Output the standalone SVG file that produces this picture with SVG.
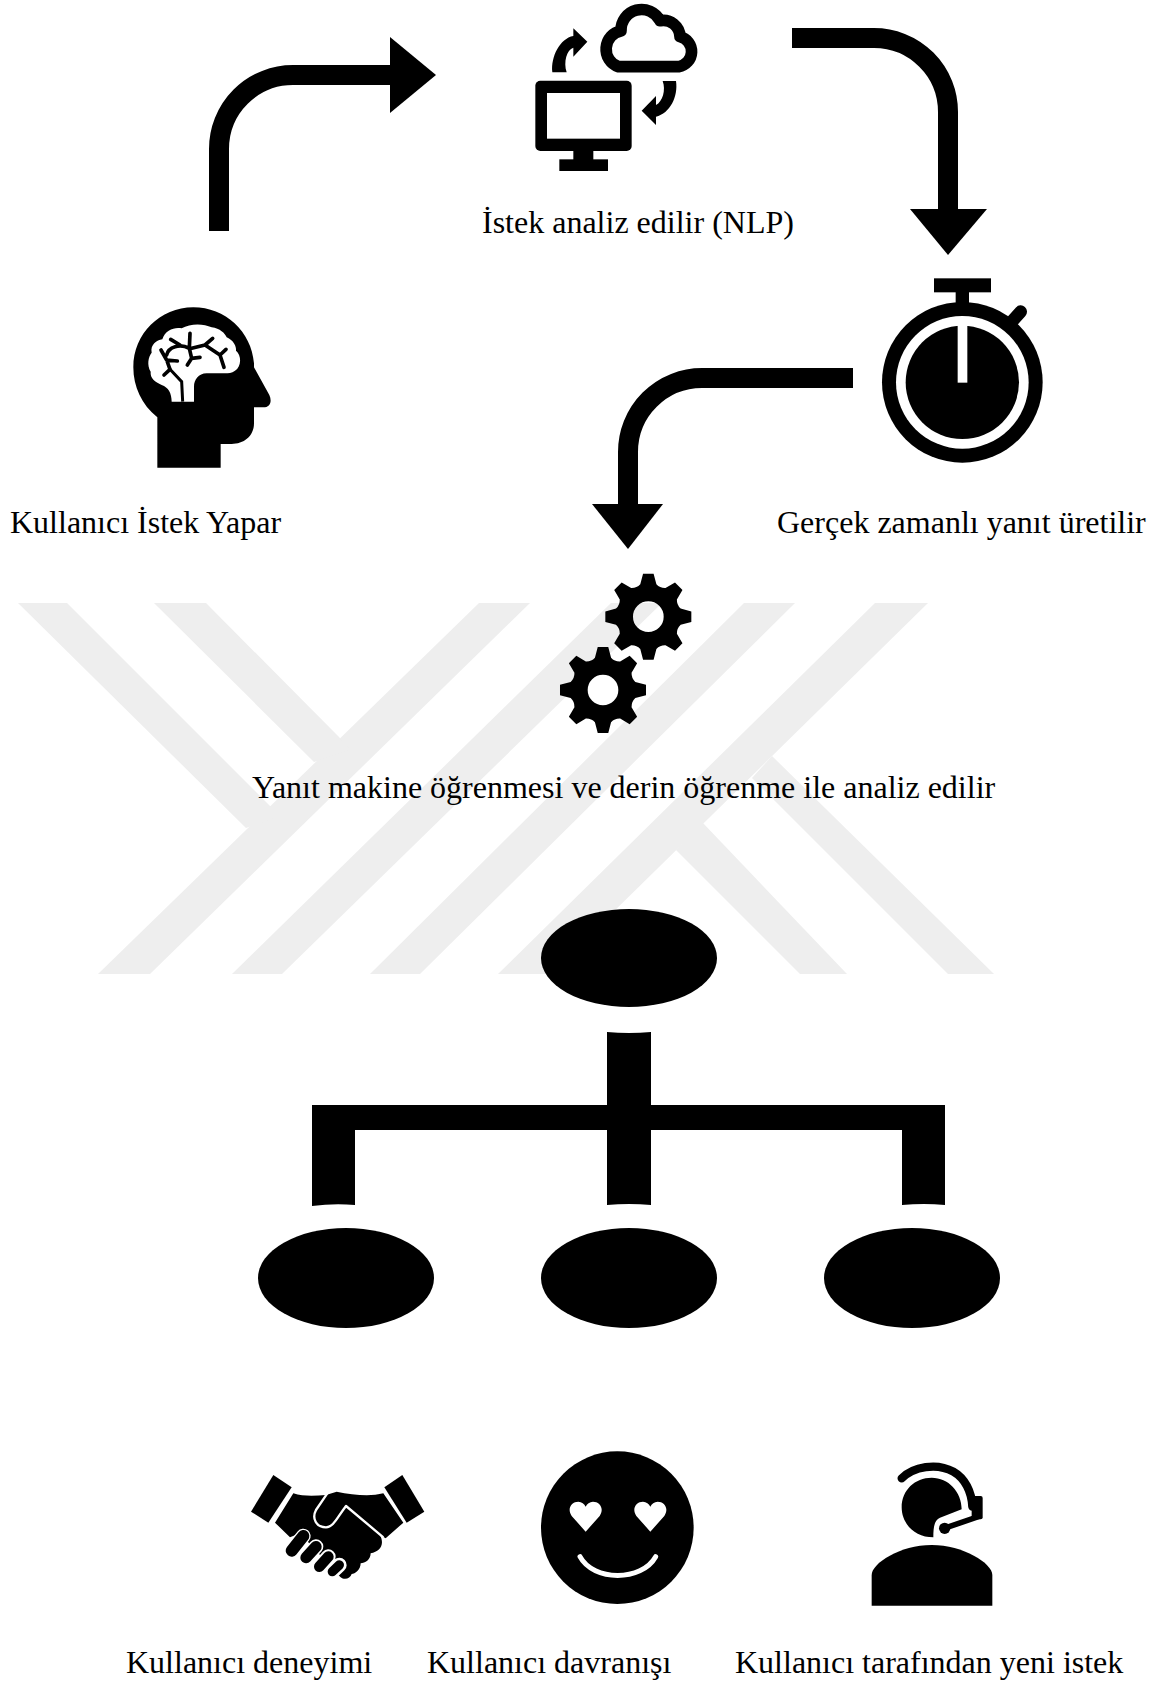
<svg xmlns="http://www.w3.org/2000/svg" width="1159" height="1683" viewBox="0 0 1159 1683">
<style>
text{font-family:"Liberation Serif","Times New Roman",serif;font-size:32px;fill:#000}
.wm{fill:#eeeeee}
.k{fill:#000}
.w{fill:#fff}
.con{fill:none;stroke:#000;stroke-width:20}
</style>
<defs>
<path id="gear" fill-rule="evenodd" d="M-15.8 -129L15.8 -129L24.2 -97Q35.2 -85 51.5 -85.7L80 -102.4L102.4 -80L85.7 -51.5Q85 -35.2 97 -24.2L129 -15.8L129 15.8L97 24.2Q85 35.2 85.7 51.5L102.4 80L80 102.4L51.5 85.7Q35.2 85 24.2 97L15.8 129L-15.8 129L-24.2 97Q-35.2 85 -51.5 85.7L-80 102.4L-102.4 80L-85.7 51.5Q-85 35.2 -97 24.2L-129 15.8L-129 -15.8L-97 -24.2Q-85 -35.2 -85.7 -51.5L-102.4 -80L-80 -102.4L-51.5 -85.7Q-35.2 -85 -24.2 -97ZM46 0A46 46 0 1 0 -46 0A46 46 0 1 0 46 0Z"/>
<clipPath id="gearclip"><circle cx="325" cy="170" r="132"/></clipPath>
</defs>
<rect width="1159" height="1683" fill="#fff"/>
<g id="watermark" class="wm">
<polygon points="479,603 530,603 150,974 98,974"/>
<polygon points="18,603 67,603 280,816 246,828"/>
<polygon points="154,603 206,603 339,737 350,750 314,762"/>
<polygon points="611,603 662,603 282,974 232,974"/>
<polygon points="744,603 795,603 420,974 370,974"/>
<polygon points="875,603 928,603 550,974 498,974"/>
<polygon points="752,778 772,756 994,974 948,974"/>
<polygon points="676,850 702,822 847,974 800,974"/>
</g>
<g id="connectors">
<path class="con" d="M219 231V149A74 74 0 0 1 293 75H395"/>
<polygon class="k" points="390,37 436,75 390,113"/>
<path class="con" d="M792 38H874A74 74 0 0 1 948 112V215"/>
<polygon class="k" points="910,209 987,209 948,255"/>
<path class="con" d="M853 378H702A74 74 0 0 0 628 452V510"/>
<polygon class="k" points="592,504 663,504 628,549"/>
<path id="tree-lines" class="k" d="M607 1032Q629 1034 651 1032V1105H945V1205Q924 1203 902 1205V1130H651V1205Q629 1203 607 1205V1130H355V1205Q334 1203 312 1206V1105H607Z"/>
</g>
<g id="node-user">
<g transform="translate(100 280) scale(.33333)">
<path class="k" d="M172 563V412C125 375 100 320 100 262C100 162 180 82 280 82C375 82 455 155 462 250L462 262L508 345C517 365 510 382 490 382H462V430C462 470 430 492 395 492H362V563Z"/>
<path class="w" d="M215 365C215 340 205 322 185 315C165 305 150 295 152 275C140 255 145 230 155 218C150 195 170 180 187 178C195 150 225 140 245 145C270 130 310 130 335 142C360 145 375 160 380 172C400 180 410 200 408 212C425 225 425 260 405 272C395 280 385 280 375 280H320C295 280 282 300 282 320V365Z"/>
<path d="M248 365L245 305L210 268" fill="none" stroke="#000" stroke-width="9"/>
<path d="M210 268L192 285M210 268L200 240L183 210M200 240L232 243M200 225C205 200 240 190 268 205M268 205L275 235L262 255M275 235L300 232M268 205L270 160M240 195L212 178M275 205L315 195L338 175M315 195L360 225L378 208M360 225L372 262" fill="none" stroke="#000" stroke-width="11" stroke-linecap="round" stroke-linejoin="round"/>
</g>
<text x="10" y="533">Kullanıcı İstek Yapar</text>
</g>
<g id="node-analysis">
<g transform="translate(510 0) scale(.33333)">
<rect class="k" x="76" y="242" width="289" height="211" rx="15"/>
<rect class="w" x="111" y="279" width="219" height="137"/>
<rect class="k" x="190" y="450" width="60" height="30"/>
<rect class="k" x="148" y="478" width="146" height="35"/>
<path d="M325 200A52 55 0 0 1 333 93A62 62 0 0 1 450 62A50 50 0 0 1 510 110A46 46 0 0 1 506 200Z" fill="none" stroke="#000" stroke-width="35" stroke-linejoin="round"/>
<path class="k" d="M127 217C122 170 150 115 190 108L190 85L232 125L190 170L190 143C170 150 160 185 170 217Z"/>
<path class="k" d="M498 243C505 290 480 340 438 350L438 375L395 332L438 288L438 315C458 305 468 270 458 243Z"/>
</g>
<text x="482" y="233">İstek analiz edilir (NLP)</text>
</g>
<g id="node-timer">
<g transform="translate(860 260) scale(.33333)">
<rect class="k" x="222" y="55" width="171" height="42"/>
<rect class="k" x="287" y="90" width="40" height="50"/>
<path d="M455 185L482 155" stroke="#000" stroke-width="38" stroke-linecap="round"/>
<circle class="k" cx="307" cy="367" r="241"/>
<circle class="w" cx="307" cy="367" r="199"/>
<circle class="k" cx="307" cy="367" r="170"/>
<rect class="w" x="293" y="190" width="29" height="178"/>
</g>
<text x="777" y="533">Gerçek zamanlı yanıt üretilir</text>
</g>
<g id="node-gears">
<g transform="translate(540 560) scale(.33333)">
<use href="#gear" x="325" y="170"/>
<g clip-path="url(#gearclip)"><use href="#gear" x="189" y="390" fill="#fff" stroke="#fff" stroke-width="18"/></g>
<use href="#gear" x="189" y="390"/>
</g>
<text x="252" y="798">Yanıt makine öğrenmesi ve derin öğrenme ile analiz edilir</text>
</g>
<g id="node-tree-top"><ellipse class="k" cx="629" cy="958" rx="88" ry="49"/></g>
<g id="node-tree-left"><ellipse class="k" cx="346" cy="1278" rx="88" ry="50"/></g>
<g id="node-tree-mid"><ellipse class="k" cx="629" cy="1278" rx="88" ry="50"/></g>
<g id="node-tree-right"><ellipse class="k" cx="912" cy="1278" rx="88" ry="50"/></g>
<g id="node-experience">
<g transform="translate(240 1450) scale(.33333)">
<polygon class="k" points="100,75 155,112 85,218 33,185"/>
<polygon class="k" points="487,75 553,185 500,218 433,112"/>
<path class="k" d="M160 130C190 140 225 138 258 135L290 125C340 135 390 140 430 130L490 218L437 265L420 255C435 285 420 305 392 310C392 330 375 340 362 340C362 360 345 372 335 372C330 388 310 392 298 378L180 250L150 262L105 218Z"/>
<path d="M262 130L228 180C215 205 228 232 258 232C280 232 290 205 318 168L430 262" fill="none" stroke="#fff" stroke-width="7" stroke-linejoin="round"/>
<path d="M155 302L190 258M198 323L228 290M238 350L265 320M277 365L298 345" fill="none" stroke="#fff" stroke-width="44" stroke-linecap="round"/>
<path d="M155 302L190 258" fill="none" stroke="#000" stroke-width="36" stroke-linecap="round"/>
<path d="M198 323L228 290" fill="none" stroke="#000" stroke-width="34" stroke-linecap="round"/>
<path d="M238 350L265 320" fill="none" stroke="#000" stroke-width="32" stroke-linecap="round"/>
<path d="M277 365L298 345" fill="none" stroke="#000" stroke-width="28" stroke-linecap="round"/>
</g>
<text x="126" y="1673">Kullanıcı deneyimi</text>
</g>
<g id="node-behavior">
<g transform="translate(530 1440) scale(.33333)">
<circle class="k" cx="262" cy="263" r="229"/>
<path class="w" d="M167 275L125 228C110 205 125 185 145 185C155 185 163 192 167 200C171 192 179 185 189 185C209 185 224 205 209 228Z"/>
<path class="w" d="M361 275L319 228C304 205 319 185 339 185C349 185 357 192 361 200C365 192 373 185 383 185C403 185 418 205 403 228Z"/>
<path d="M150 350C190 425 335 425 377 350" fill="none" stroke="#fff" stroke-width="15" stroke-linecap="round"/>
</g>
<text x="427" y="1673">Kullanıcı davranışı</text>
</g>
<g id="node-request">
<g transform="translate(850 1450) scale(.33333)">
<path class="k" d="M65 467V375C65 340 150 285 245 285C340 285 427 340 427 375V467Z"/>
<path class="k" d="M250 262C195 262 155 222 155 172C155 120 195 83 245 83C295 83 335 125 335 178L270 203C255 210 250 225 250 262Z"/>
<path d="M155 85C190 50 260 37 310 65C345 85 365 125 367 170" fill="none" stroke="#000" stroke-width="25" stroke-linecap="round"/>
<rect class="k" x="365" y="138" width="33" height="70" rx="6"/>
<path d="M282 235L385 200" fill="none" stroke="#000" stroke-width="17" stroke-linecap="round"/>
<circle class="k" cx="284" cy="235" r="17"/>
</g>
<text x="735" y="1673">Kullanıcı tarafından yeni istek</text>
</g>
</svg>
